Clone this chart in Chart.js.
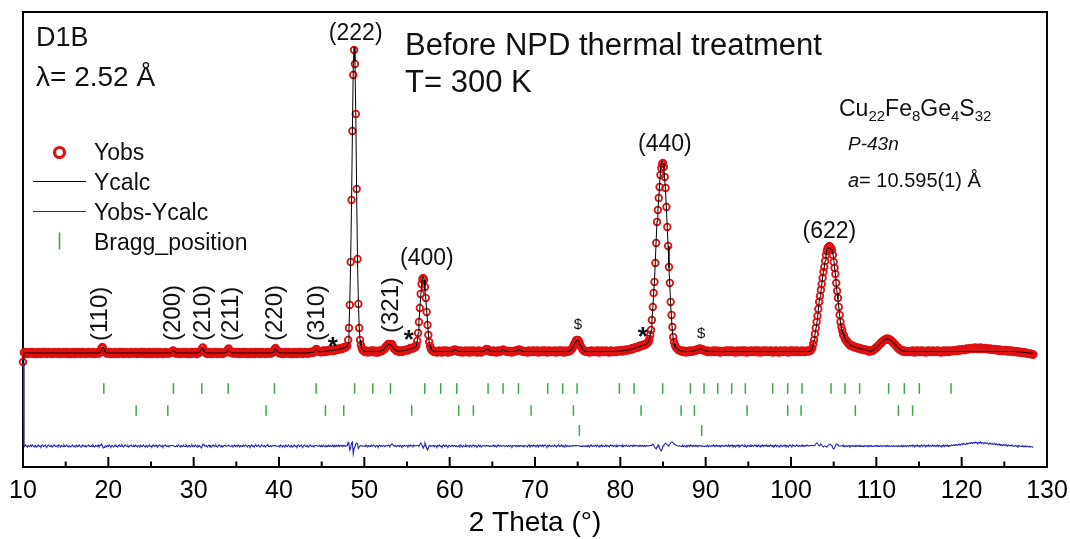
<!DOCTYPE html>
<html>
<head>
<meta charset="utf-8">
<script src="https://cdn.jsdelivr.net/npm/chart.js@4.4.1/dist/chart.umd.min.js"></script>
<style>
  html, body { margin: 0; padding: 0; background: #fff; }
</style>
</head>
<body>
<canvas id="chart" width="1070" height="539"></canvas>
<script>
// D1B neutron pattern, 2theta grid from 10.0 deg in 0.1 deg steps
const startDeg = 10.0;
const stepDeg = 0.1;

const yObs = [
  450, 545, 535, 550, 540, 530, 545, 540, 535, 550,
  535, 550, 540, 530, 545, 545, 530, 540, 550, 535,
  540, 530, 545, 550, 535, 540, 550, 535, 530, 545,
  550, 540, 535, 545, 530, 540, 545, 550, 535, 535,
  545, 535, 550, 540, 530, 545, 540, 535, 550, 535,
  535, 550, 540, 530, 545, 545, 530, 540, 550, 535,
  540, 530, 545, 550, 535, 540, 550, 535, 530, 545,
  550, 540, 535, 545, 530, 540, 545, 550, 535, 535,
  545, 535, 550, 540, 530, 545, 540, 535, 550, 535,
  545, 560, 590, 600, 585, 560, 550, 545, 535, 545,
  535, 550, 540, 530, 545, 545, 530, 540, 550, 535,
  540, 530, 545, 550, 535, 540, 550, 535, 530, 545,
  550, 540, 535, 545, 530, 540, 545, 550, 535, 535,
  545, 535, 550, 540, 530, 545, 540, 535, 550, 535,
  535, 550, 540, 530, 545, 545, 530, 540, 550, 535,
  540, 530, 545, 550, 535, 540, 550, 535, 530, 545,
  550, 540, 535, 545, 530, 540, 545, 550, 535, 535,
  545, 535, 540, 545, 550, 560, 565, 555, 540, 535,
  545, 535, 550, 540, 530, 545, 540, 535, 550, 535,
  535, 550, 540, 530, 545, 545, 530, 540, 550, 535,
  545, 535, 550, 540, 530, 545, 540, 555, 555, 565,
  590, 595, 568, 550, 540, 545, 530, 540, 550, 535,
  540, 530, 545, 550, 535, 540, 550, 535, 530, 545,
  550, 540, 535, 545, 530, 540, 545, 550, 545, 560,
  575, 585, 565, 550, 540, 545, 535, 540, 550, 535,
  545, 535, 550, 540, 530, 545, 540, 535, 550, 535,
  535, 550, 540, 530, 545, 545, 530, 540, 550, 535,
  540, 530, 545, 550, 535, 540, 550, 535, 530, 545,
  550, 540, 535, 545, 530, 540, 545, 550, 535, 535,
  545, 535, 545, 550, 565, 580, 590, 570, 555, 545,
  545, 535, 550, 540, 530, 545, 540, 535, 550, 535,
  535, 550, 540, 530, 545, 545, 530, 540, 550, 535,
  540, 530, 545, 550, 535, 540, 550, 535, 530, 545,
  550, 540, 536, 546, 532, 542, 548, 554, 540, 541,
  550, 545, 560, 575, 580, 565, 555, 560, 550, 548,
  560, 550, 565, 555, 550, 565, 560, 555, 570, 560,
  570, 560, 565, 575, 560, 575, 565, 580, 570, 575,
  585, 575, 585, 590, 580, 595, 590, 600, 595, 605,
  610, 670, 790, 1020, 1450, 2070, 2760, 3320, 3570, 3430,
  2930, 2180, 1480, 1030, 790, 670, 620, 590, 570, 560,
  560, 550, 565, 555, 545, 560, 555, 550, 565, 550,
  550, 565, 555, 545, 560, 560, 545, 555, 565, 555,
  565, 560, 575, 580, 580, 600, 610, 615, 630, 630,
  620, 625, 630, 620, 595, 580, 580, 565, 560, 565,
  560, 550, 565, 560, 550, 565, 560, 570, 565, 570,
  575, 565, 580, 575, 590, 585, 590, 585, 600, 595,
  600, 615, 660, 740, 850, 990, 1130, 1230, 1280, 1290,
  1270, 1200, 1090, 950, 820, 720, 650, 610, 580, 570,
  560, 565, 550, 560, 555, 545, 560, 555, 565, 550,
  555, 545, 560, 565, 550, 555, 565, 550, 545, 560,
  560, 550, 555, 565, 560, 570, 575, 565, 570, 555,
  555, 560, 550, 565, 555, 545, 560, 555, 550, 565,
  550, 560, 555, 545, 565, 555, 550, 560, 565, 550,
  560, 555, 545, 555, 565, 550, 560, 545, 555, 560,
  560, 565, 565, 580, 575, 575, 565, 555, 560, 550,
  555, 565, 550, 560, 555, 545, 560, 565, 550, 555,
  560, 560, 570, 575, 565, 560, 555, 560, 550, 560,
  550, 560, 555, 545, 560, 555, 560, 555, 565, 560,
  570, 575, 565, 570, 560, 555, 560, 550, 560, 555,
  555, 545, 560, 565, 550, 555, 560, 550, 565, 555,
  560, 550, 555, 565, 545, 560, 555, 560, 550, 565,
  550, 560, 565, 555, 545, 560, 550, 565, 555, 550,
  560, 555, 550, 565, 555, 545, 560, 555, 565, 550,
  555, 565, 550, 560, 545, 555, 565, 550, 560, 555,
  560, 560, 570, 580, 585, 610, 630, 645, 665, 670,
  670, 665, 645, 620, 600, 590, 570, 565, 560, 555,
  560, 550, 560, 555, 545, 560, 565, 550, 555, 560,
  555, 560, 550, 565, 555, 545, 560, 555, 565, 550,
  560, 550, 555, 565, 550, 560, 555, 545, 560, 565,
  555, 560, 550, 560, 560, 550, 565, 555, 560, 565,
  560, 565, 555, 570, 560, 570, 565, 575, 565, 570,
  575, 570, 580, 585, 575, 590, 585, 595, 590, 600,
  600, 595, 610, 605, 615, 610, 620, 615, 625, 620,
  630, 640, 640, 650, 680, 720, 770, 870, 1000, 1140,
  1250, 1440, 1640, 1850, 1970, 2090, 2200, 2320, 2390, 2430,
  2440, 2400, 2300, 2190, 2000, 1800, 1610, 1400, 1240, 1050,
  920, 800, 700, 650, 620, 600, 590, 580, 570, 570,
  565, 560, 555, 565, 550, 560, 555, 545, 560, 555,
  560, 550, 565, 555, 560, 555, 565, 560, 570, 565,
  575, 570, 580, 585, 580, 575, 580, 570, 565, 560,
  560, 555, 565, 550, 560, 555, 550, 560, 555, 565,
  550, 560, 555, 565, 550, 555, 560, 545, 560, 555,
  560, 555, 550, 560, 565, 550, 555, 565, 550, 560,
  555, 565, 550, 555, 560, 545, 560, 555, 565, 550,
  560, 550, 560, 565, 555, 550, 565, 555, 545, 560,
  555, 560, 550, 565, 555, 560, 550, 560, 565, 550,
  560, 550, 565, 555, 545, 560, 555, 565, 550, 560,
  555, 565, 550, 560, 555, 550, 565, 555, 560, 545,
  560, 555, 565, 550, 560, 555, 545, 560, 565, 555,
  550, 560, 555, 565, 550, 560, 555, 545, 560, 565,
  555, 550, 565, 555, 560, 550, 560, 565, 555, 550,
  560, 555, 550, 565, 555, 560, 550, 560, 555, 565,
  555, 560, 560, 565, 575, 590, 630, 670, 730, 790,
  850, 910, 980, 1050, 1110, 1170, 1230, 1290, 1350, 1400,
  1460, 1520, 1560, 1590, 1600, 1610, 1600, 1590, 1570, 1520,
  1450, 1390, 1330, 1240, 1160, 1090, 1000, 920, 850, 800,
  765, 725, 715, 685, 670, 665, 645, 640, 635, 615,
  620, 610, 615, 600, 605, 595, 600, 590, 595, 585,
  590, 580, 585, 575, 580, 570, 578, 568, 572, 565,
  565, 555, 565, 555, 565, 560, 565, 575, 575, 590,
  590, 605, 605, 620, 625, 640, 640, 655, 660, 670,
  670, 680, 675, 685, 675, 680, 670, 665, 660, 645,
  645, 630, 625, 610, 605, 590, 590, 575, 575, 565,
  570, 555, 565, 555, 560, 550, 560, 555, 550, 560,
  555, 560, 550, 565, 555, 545, 560, 555, 565, 550,
  560, 550, 555, 565, 550, 560, 555, 560, 545, 560,
  555, 565, 550, 560, 555, 550, 565, 555, 560, 550,
  560, 555, 565, 550, 560, 555, 545, 560, 555, 565,
  550, 560, 555, 565, 550, 560, 560, 555, 565, 560,
  560, 565, 560, 570, 565, 560, 570, 575, 565, 570,
  575, 570, 580, 575, 570, 580, 585, 575, 580, 585,
  580, 590, 585, 580, 590, 585, 595, 585, 590, 580,
  590, 585, 595, 580, 590, 585, 580, 590, 585, 580,
  585, 580, 575, 585, 580, 575, 580, 570, 575, 580,
  570, 575, 565, 570, 575, 560, 570, 565, 560, 570,
  565, 560, 570, 560, 555, 565, 560, 555, 565, 555,
  560, 550, 555, 560, 550, 555, 545, 555, 550, 545,
  545, 550, 540, 545, 540, 545, 535, 540, 535, 530,
  535, 530, 530, 525, 525
];

const yCalc = [
  -380, 540, 540, 540, 540, 540, 540, 540, 540, 540,
  540, 540, 540, 540, 540, 540, 540, 540, 540, 540,
  540, 540, 540, 540, 540, 540, 540, 540, 540, 540,
  540, 540, 540, 540, 540, 540, 540, 540, 540, 540,
  540, 540, 540, 540, 540, 540, 540, 540, 540, 540,
  540, 540, 540, 540, 540, 540, 540, 540, 540, 540,
  540, 540, 540, 540, 540, 540, 540, 540, 540, 540,
  540, 540, 540, 540, 540, 540, 540, 540, 540, 540,
  540, 540, 540, 540, 540, 540, 540, 540, 540, 540,
  542, 550, 570, 598, 605, 575, 552, 544, 541, 540,
  540, 540, 540, 540, 540, 540, 540, 540, 540, 540,
  540, 540, 540, 540, 540, 540, 540, 540, 540, 540,
  540, 540, 540, 540, 540, 540, 540, 540, 540, 540,
  540, 540, 540, 540, 540, 540, 540, 540, 540, 540,
  540, 540, 540, 540, 540, 540, 540, 540, 540, 540,
  540, 540, 540, 540, 540, 540, 540, 540, 540, 540,
  540, 540, 540, 540, 540, 540, 540, 540, 540, 540,
  540, 540, 540, 540, 545, 555, 562, 555, 545, 541,
  540, 540, 540, 540, 540, 540, 540, 540, 540, 540,
  540, 540, 540, 540, 540, 540, 540, 540, 540, 540,
  540, 540, 540, 540, 540, 540, 542, 550, 565, 585,
  590, 575, 558, 547, 542, 540, 540, 540, 540, 540,
  540, 540, 540, 540, 540, 540, 540, 540, 540, 540,
  540, 540, 540, 540, 540, 540, 540, 542, 548, 560,
  572, 575, 565, 552, 544, 541, 540, 540, 540, 540,
  540, 540, 540, 540, 540, 540, 540, 540, 540, 540,
  540, 540, 540, 540, 540, 540, 540, 540, 540, 540,
  540, 540, 540, 540, 540, 540, 540, 540, 540, 540,
  540, 540, 540, 540, 540, 540, 540, 540, 540, 540,
  540, 541, 543, 548, 560, 578, 585, 575, 558, 547,
  542, 540, 540, 540, 540, 540, 540, 540, 540, 540,
  540, 540, 540, 540, 540, 540, 540, 540, 540, 540,
  540, 540, 540, 540, 540, 540, 540, 540, 540, 540,
  540, 540, 541, 541, 542, 542, 543, 544, 545, 546,
  547, 550, 558, 570, 574, 568, 558, 553, 552, 553,
  554, 555, 556, 557, 558, 559, 560, 561, 562, 563,
  564, 565, 566, 567, 568, 570, 571, 572, 574, 575,
  577, 579, 581, 583, 585, 588, 591, 594, 598, 602,
  605, 635, 780, 1060, 1470, 2040, 2720, 3400, 3600, 3460,
  2910, 2150, 1460, 1055, 800, 670, 615, 588, 572, 562,
  558, 556, 555, 555, 555, 555, 555, 555, 555, 555,
  555, 555, 555, 555, 555, 555, 555, 555, 557, 560,
  562, 565, 570, 577, 586, 596, 607, 616, 622, 625,
  624, 619, 611, 601, 591, 582, 574, 568, 563, 560,
  558, 557, 557, 558, 559, 560, 562, 564, 566, 568,
  570, 572, 574, 577, 580, 583, 586, 589, 592, 595,
  598, 612, 655, 735, 850, 980, 1100, 1210, 1280, 1310,
  1270, 1170, 1080, 970, 860, 740, 650, 605, 580, 568,
  562, 559, 557, 556, 555, 555, 555, 555, 555, 555,
  555, 555, 555, 555, 555, 555, 555, 555, 555, 555,
  555, 555, 556, 558, 562, 567, 570, 570, 567, 562,
  558, 556, 555, 555, 555, 555, 555, 555, 555, 555,
  555, 555, 555, 555, 555, 555, 555, 555, 555, 555,
  555, 555, 555, 555, 555, 555, 555, 555, 555, 555,
  557, 562, 568, 574, 576, 572, 566, 560, 557, 556,
  555, 555, 555, 555, 555, 555, 555, 555, 555, 555,
  558, 563, 568, 570, 566, 561, 557, 556, 555, 555,
  555, 555, 555, 555, 555, 555, 556, 558, 561, 565,
  568, 570, 569, 565, 561, 558, 556, 555, 555, 555,
  555, 555, 555, 555, 555, 555, 555, 555, 555, 555,
  555, 555, 555, 555, 555, 555, 555, 555, 555, 555,
  555, 555, 555, 555, 555, 555, 555, 555, 555, 555,
  555, 555, 555, 555, 555, 555, 555, 555, 555, 555,
  555, 555, 555, 555, 555, 555, 555, 555, 556, 557,
  559, 562, 567, 575, 588, 605, 625, 645, 660, 668,
  667, 660, 645, 625, 605, 588, 575, 566, 561, 558,
  557, 556, 555, 555, 555, 555, 555, 555, 555, 555,
  555, 555, 555, 555, 555, 555, 555, 555, 555, 555,
  555, 555, 555, 555, 555, 555, 555, 555, 555, 555,
  555, 555, 555, 555, 556, 556, 557, 557, 558, 558,
  559, 560, 561, 562, 563, 564, 566, 567, 568, 570,
  572, 574, 576, 578, 580, 582, 585, 588, 591, 594,
  597, 600, 603, 606, 609, 612, 615, 618, 621, 624,
  628, 633, 640, 652, 675, 715, 765, 860, 980, 1130,
  1260, 1460, 1670, 1860, 1960, 2080, 2220, 2360, 2440, 2460,
  2440, 2390, 2280, 2160, 1980, 1790, 1610, 1390, 1220, 1020,
  880, 760, 670, 630, 600, 590, 585, 578, 572, 568,
  565, 562, 560, 558, 557, 556, 555, 555, 555, 555,
  555, 555, 555, 556, 557, 558, 560, 562, 565, 568,
  571, 574, 577, 579, 580, 579, 576, 572, 568, 564,
  561, 559, 558, 557, 556, 556, 555, 555, 555, 555,
  555, 555, 555, 555, 555, 555, 555, 555, 555, 555,
  555, 555, 555, 555, 555, 555, 555, 555, 555, 555,
  555, 555, 555, 555, 555, 555, 555, 555, 555, 555,
  555, 555, 555, 555, 555, 555, 555, 555, 555, 555,
  555, 555, 555, 555, 555, 555, 555, 555, 555, 555,
  555, 555, 555, 555, 555, 555, 555, 555, 555, 555,
  555, 555, 555, 555, 555, 555, 555, 555, 555, 555,
  555, 555, 555, 555, 555, 555, 555, 555, 555, 555,
  555, 555, 555, 555, 555, 555, 555, 555, 555, 555,
  555, 555, 555, 555, 555, 555, 555, 555, 555, 555,
  555, 555, 555, 555, 555, 555, 555, 555, 555, 555,
  555, 556, 557, 560, 568, 585, 625, 668, 720, 770,
  820, 880, 970, 1050, 1100, 1150, 1220, 1290, 1360, 1400,
  1460, 1520, 1570, 1590, 1590, 1600, 1580, 1580, 1570, 1540,
  1480, 1410, 1330, 1220, 1140, 1080, 1000, 920, 850, 800,
  760, 730, 708, 690, 672, 660, 650, 640, 630, 622,
  617, 613, 609, 605, 602, 599, 596, 593, 590, 588,
  586, 584, 582, 580, 578, 576, 574, 572, 570, 568,
  563, 561, 560, 560, 561, 564, 568, 573, 579, 585,
  592, 600, 609, 618, 627, 636, 645, 654, 662, 668,
  673, 677, 680, 681, 680, 677, 672, 666, 659, 651,
  643, 634, 624, 614, 604, 595, 587, 580, 574, 569,
  565, 562, 560, 558, 557, 556, 555, 555, 555, 555,
  555, 555, 555, 555, 555, 555, 555, 555, 555, 555,
  555, 555, 555, 555, 555, 555, 555, 555, 555, 555,
  555, 555, 555, 555, 555, 555, 555, 555, 555, 555,
  555, 555, 555, 555, 555, 555, 555, 555, 555, 555,
  555, 555, 555, 555, 555, 555, 555, 555, 555, 555,
  555, 555, 555, 555, 555, 555, 555, 555, 555, 555,
  555, 555, 555, 555, 555, 555, 555, 555, 555, 555,
  555, 555, 555, 555, 555, 555, 555, 555, 555, 555,
  555, 555, 555, 555, 555, 555, 555, 555, 555, 555,
  555, 555, 555, 555, 555, 555, 555, 555, 555, 555,
  555, 555, 555, 555, 555, 555, 555, 555, 555, 555,
  555, 555, 555, 555, 555, 555, 555, 555, 555, 555,
  555, 555, 554, 554, 553, 553, 552, 552, 551, 550,
  549, 548, 547, 546, 545, 544, 543, 542, 541, 540,
  539, 538, 537, 536, 535
];

// difference curve is drawn shifted down to this level
const diffLevel = -390;

// Bragg reflections (2theta) for the three phases
const braggMain = [19.47, 27.63, 30.95, 34.04, 39.47, 44.35, 48.86, 50.99, 53.06, 57.08, 58.95, 60.83,
  64.50, 66.26, 68.06, 71.49, 73.25, 74.93, 79.89, 81.61, 84.96, 88.21, 89.81, 91.41, 93.05, 94.65,
  97.85, 99.61, 101.29, 104.69, 106.33, 108.04, 111.44, 113.28, 115.04, 118.75];
const braggSecond = [23.26, 26.97, 38.49, 45.44, 47.59, 55.55, 61.06, 62.78, 69.54, 74.50, 82.43,
  87.12, 88.68, 94.85, 99.61, 101.18, 107.54, 112.58, 114.25];
const braggThird = [75.20, 89.53];
const braggLevels = [185, -35, -235];

const xTickValues = [10, 20, 30, 40, 50, 60, 70, 80, 90, 100, 110, 120, 130];
const xMinorTicks = [15, 25, 35, 45, 55, 65, 75, 85, 95, 105, 115, 125];

const hklTop = ['(222)', '(400)', '(440)', '(622)'];
const hklSide = ['(110)', '(200)', '(210)', '(211)', '(220)', '(310)', '(321)'];
const legendNames = ['Yobs', 'Ycalc', 'Yobs-Ycalc', 'Bragg_position'];

const RED = 'rgb(222,18,18)';
const BLUE = 'rgb(34,34,190)';
const GREEN = 'rgb(58,168,72)';
const FONT = '"Liberation Sans", Arial, Helvetica, sans-serif';

const thetaAt = i => +(startDeg + i * stepDeg).toFixed(1);
const obsPoints = yObs.map((v, i) => ({x: thetaAt(i), y: v}));
const calcPoints = yCalc.map((v, i) => ({x: thetaAt(i), y: v}));
const diffPoints = yObs.map((v, i) => ({x: thetaAt(i), y: diffLevel + v - yCalc[i]}));
const braggRow = (list, level) => list.map(t => ({x: t, y: level}));

// label anchors in data units (2theta, counts)
const hklTopAt = [[48.99, 3670], [57.33, 1420], [85.22, 2563], [104.49, 1687]];
const hklSideAt = [[19.08, 660], [27.63, 660], [31.09, 660], [34.43, 660], [39.58, 660], [44.45, 660], [53.17, 740]];
const starAt = [[46.3, 670], [55.2, 737], [82.62, 770]];
const dollarAt = [[75.03, 837], [89.46, 753]];

const font = (size, extra = '') => `${extra} ${size}px ${FONT}`.trim();

const frame = {
  id: 'frame',
  beforeDatasetsDraw(chart) {
    const {ctx, chartArea: a, scales: {x}} = chart;
    ctx.save();
    ctx.strokeStyle = '#000';
    ctx.lineWidth = 2;
    ctx.strokeRect(a.left, a.top, a.right - a.left, a.bottom - a.top);
    ctx.beginPath();
    xTickValues.forEach(v => {
      const px = x.getPixelForValue(v);
      ctx.moveTo(px, a.bottom);
      ctx.lineTo(px, a.bottom - 10);
    });
    xMinorTicks.forEach(v => {
      const px = x.getPixelForValue(v);
      ctx.moveTo(px, a.bottom);
      ctx.lineTo(px, a.bottom - 5.5);
    });
    ctx.stroke();
    ctx.restore();
  },
  afterDraw(chart) {
    const {ctx, chartArea: a, scales: {x, y}} = chart;
    ctx.save();
    ctx.fillStyle = '#111';
    ctx.textBaseline = 'alphabetic';

    // peak labels
    ctx.textAlign = 'center';
    ctx.font = font(23);
    hklTop.forEach((t, i) => ctx.fillText(t, x.getPixelForValue(hklTopAt[i][0]), y.getPixelForValue(hklTopAt[i][1])));

    ctx.textAlign = 'left';
    ctx.textBaseline = 'middle';
    hklSide.forEach((t, i) => {
      ctx.save();
      ctx.translate(x.getPixelForValue(hklSideAt[i][0]), y.getPixelForValue(hklSideAt[i][1]));
      ctx.rotate(-Math.PI / 2);
      ctx.font = font(24);
      ctx.fillText(t, 0, 0);
      ctx.restore();
    });

    ctx.textAlign = 'center';
    ctx.textBaseline = 'alphabetic';
    ctx.font = font(26, 'bold');
    starAt.forEach(([t, v]) => ctx.fillText('*', x.getPixelForValue(t), y.getPixelForValue(v) + 15));
    ctx.font = font(15);
    dollarAt.forEach(([t, v]) => ctx.fillText('$', x.getPixelForValue(t), y.getPixelForValue(v) + 6));

    // headers
    ctx.textAlign = 'left';
    ctx.font = font(27);
    ctx.fillText('D1B', a.left + 13, a.top + 34);
    ctx.font = font(28);
    ctx.fillText('λ= 2.52 Å', a.left + 13, a.top + 74);
    ctx.font = font(31);
    ctx.fillText('Before NPD thermal treatment', 405, a.top + 43);
    ctx.fillText('T= 300 K', 405, a.top + 80);

    // formula with subscripts
    const formula = [['Cu', false], ['22', true], ['Fe', false], ['8', true], ['Ge', false], ['4', true], ['S', false], ['32', true]];
    let fx = 839;
    formula.forEach(([s, sub]) => {
      ctx.font = font(sub ? 15 : 23);
      ctx.fillText(s, fx, sub ? 121 : 116);
      fx += ctx.measureText(s).width;
    });
    ctx.font = font(19, 'italic');
    ctx.fillText('P-43n', 848, 150);
    ctx.font = font(20, 'italic');
    ctx.fillText('a', 848, 187);
    const aw = ctx.measureText('a').width;
    ctx.font = font(20);
    ctx.fillText('= 10.595(1) Å', 848 + aw, 187);

    // legend
    const lx = 94, rows = [159.5, 189.5, 219.5, 249.5];
    ctx.font = font(23);
    legendNames.forEach((n, i) => ctx.fillText(n, lx, rows[i]));
    ctx.strokeStyle = RED;
    ctx.lineWidth = 3.2;
    ctx.beginPath();
    ctx.arc(59.5, rows[0] - 7, 5, 0, Math.PI * 2);
    ctx.stroke();
    ctx.lineWidth = 1.2;
    ctx.strokeStyle = '#000';
    ctx.beginPath();
    ctx.moveTo(33, rows[1] - 8);
    ctx.lineTo(86, rows[1] - 8);
    ctx.stroke();
    ctx.strokeStyle = BLUE;
    ctx.beginPath();
    ctx.moveTo(33, rows[2] - 8);
    ctx.lineTo(86, rows[2] - 8);
    ctx.stroke();
    ctx.strokeStyle = GREEN;
    ctx.lineWidth = 1.6;
    ctx.beginPath();
    ctx.moveTo(59.5, rows[3] - 17);
    ctx.lineTo(59.5, rows[3]);
    ctx.stroke();
    ctx.restore();
  }
};

const braggStyle = {
  showLine: false,
  pointStyle: 'line',
  pointRotation: 90,
  pointRadius: 5.3,
  pointBorderWidth: 1.5,
  pointBorderColor: GREEN,
  pointBackgroundColor: GREEN,
  order: 3
};

new Chart(document.getElementById('chart'), {
  type: 'scatter',
  data: {
    datasets: [
      {label: 'Yobs-Ycalc', data: diffPoints, showLine: true, borderColor: BLUE, borderWidth: 1.1, pointRadius: 0, order: 0},
      {label: 'Ycalc', data: calcPoints, showLine: true, borderColor: '#000', borderWidth: 1, pointRadius: 0, order: 1},
      {label: 'Yobs', data: obsPoints, showLine: false, pointRadius: 3.3, pointBorderWidth: 1.8,
        pointBorderColor: RED, pointBackgroundColor: 'rgba(0,0,0,0)', order: 2, clip: false},
      {label: 'Bragg 1', data: braggRow(braggMain, braggLevels[0]), ...braggStyle},
      {label: 'Bragg 2', data: braggRow(braggSecond, braggLevels[1]), ...braggStyle},
      {label: 'Bragg 3', data: braggRow(braggThird, braggLevels[2]), ...braggStyle}
    ]
  },
  options: {
    responsive: false,
    animation: false,
    devicePixelRatio: 1,
    layout: {padding: {left: 23, right: 23, top: 12, bottom: 0}},
    elements: {line: {tension: 0}},
    plugins: {legend: {display: false}, tooltip: {enabled: false}},
    scales: {
      x: {
        type: 'linear',
        min: 10,
        max: 130,
        afterBuildTicks: s => { s.ticks = xTickValues.map(v => ({value: v})); },
        afterFit: s => { s.height = 72; },
        grid: {display: false, drawTicks: false},
        border: {display: false},
        ticks: {color: '#000', font: {family: FONT, size: 25, lineHeight: 1.95}, padding: 0, maxRotation: 0, autoSkip: false},
        title: {display: true, text: '2 Theta (°)', color: '#000',
          font: {family: FONT, size: 28, lineHeight: 1}, padding: {top: 0, bottom: 2}}
      },
      y: {display: false, min: -600, max: 3950}
    }
  },
  plugins: [frame]
});
</script>
</body>
</html>
